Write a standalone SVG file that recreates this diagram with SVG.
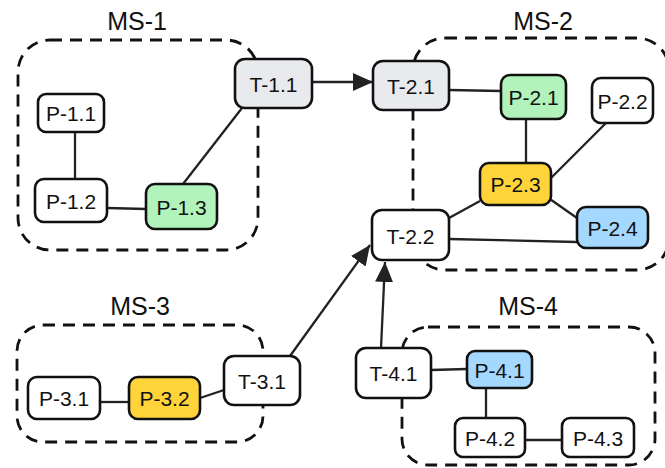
<svg xmlns="http://www.w3.org/2000/svg" width="665" height="468" viewBox="0 0 665 468">
<style>
.ms{fill:none;stroke:#111;stroke-width:2.8;stroke-dasharray:12 8}
.lbl{font-family:"Liberation Sans",Arial,sans-serif;font-size:25px;fill:#111;text-anchor:middle}
.n rect{stroke:#111;stroke-width:2.6}
.n text{font-family:"Liberation Sans",Arial,sans-serif;font-size:21px;fill:#111;text-anchor:middle;dominant-baseline:central}
.w{fill:#fff}.g{fill:#e8eaed}.gr{fill:#b2f2bb}.y{fill:#ffd43b}.b{fill:#a5d8ff}
#connectors line{stroke:#222;stroke-width:2.3}
</style>
<defs>
<marker id="ah" markerUnits="userSpaceOnUse" markerWidth="22" markerHeight="20" refX="20" refY="9" orient="auto">
<path d="M0,0 L20,9 L0,18 Z" fill="#222"/>
</marker>
</defs>
<rect width="665" height="468" fill="#fff"/>
<g id="MS-1"><rect class="ms" x="18" y="40" width="240" height="210" rx="32"/><text class="lbl" x="137" y="30">MS-1</text></g>
<g id="MS-2"><rect class="ms" x="413" y="38" width="256" height="232" rx="32"/><text class="lbl" x="543" y="30">MS-2</text></g>
<g id="MS-3"><rect class="ms" x="17" y="325" width="246" height="117" rx="26"/><text class="lbl" x="140" y="315">MS-3</text></g>
<g id="MS-4"><rect class="ms" x="402" y="327" width="253" height="138" rx="26"/><text class="lbl" x="528" y="315">MS-4</text></g>
<g id="connectors">
<line x1="75" y1="132" x2="75" y2="179"/>
<line x1="107" y1="208" x2="146" y2="209"/>
<line x1="183" y1="184" x2="242" y2="108"/>
<line x1="312" y1="82" x2="373" y2="82" marker-end="url(#ah)"/>
<line x1="449" y1="90" x2="501" y2="91"/>
<line x1="526" y1="119" x2="526" y2="163"/>
<line x1="606" y1="123" x2="551" y2="178"/>
<line x1="547" y1="197" x2="577" y2="218"/>
<line x1="480" y1="201" x2="449" y2="218"/>
<line x1="449" y1="239" x2="577" y2="242"/>
<line x1="100" y1="402" x2="129" y2="402"/>
<line x1="200" y1="398" x2="224" y2="390"/>
<line x1="290" y1="356" x2="370" y2="245" marker-end="url(#ah)"/>
<line x1="381" y1="348" x2="385" y2="262" marker-end="url(#ah)"/>
<line x1="431" y1="370" x2="467" y2="369"/>
<line x1="486" y1="388" x2="486" y2="418"/>
<line x1="525" y1="440" x2="562" y2="440"/>
</g>
<g id="T-1.1" class="n"><rect class="g" x="235" y="59" width="77" height="49" rx="10"/><text x="273.5" y="84">T-1.1</text></g>
<g id="P-1.1" class="n"><rect class="w" x="38" y="94" width="66" height="38" rx="8"/><text x="71" y="113.5">P-1.1</text></g>
<g id="P-1.2" class="n"><rect class="w" x="35" y="179" width="72" height="43" rx="9"/><text x="71" y="201">P-1.2</text></g>
<g id="P-1.3" class="n"><rect class="gr" x="146" y="184" width="71" height="45" rx="9"/><text x="181.5" y="207">P-1.3</text></g>
<g id="T-2.1" class="n"><rect class="g" x="373" y="61" width="76" height="49" rx="10"/><text x="411" y="86">T-2.1</text></g>
<g id="P-2.1" class="n"><rect class="gr" x="501" y="75" width="65" height="44" rx="9"/><text x="533.5" y="97.5">P-2.1</text></g>
<g id="P-2.2" class="n"><rect class="w" x="592" y="78" width="61" height="45" rx="9"/><text x="622.5" y="101">P-2.2</text></g>
<g id="P-2.3" class="n"><rect class="y" x="480" y="163" width="71" height="42" rx="9"/><text x="515.5" y="184.5">P-2.3</text></g>
<g id="P-2.4" class="n"><rect class="b" x="577" y="207" width="71" height="41" rx="9"/><text x="612.5" y="228">P-2.4</text></g>
<g id="T-2.2" class="n"><rect class="w" x="372" y="210" width="77" height="50" rx="10"/><text x="410.5" y="236">T-2.2</text></g>
<g id="P-3.1" class="n"><rect class="w" x="28" y="377" width="72" height="42" rx="9"/><text x="64" y="398.5">P-3.1</text></g>
<g id="P-3.2" class="n"><rect class="y" x="129" y="377" width="71" height="42" rx="9"/><text x="164.5" y="398.5">P-3.2</text></g>
<g id="T-3.1" class="n"><rect class="w" x="224" y="356" width="76" height="49" rx="10"/><text x="262" y="381">T-3.1</text></g>
<g id="T-4.1" class="n"><rect class="w" x="356" y="348" width="75" height="50" rx="10"/><text x="393.5" y="373.5">T-4.1</text></g>
<g id="P-4.1" class="n"><rect class="b" x="467" y="351" width="65" height="37" rx="8"/><text x="499.5" y="370">P-4.1</text></g>
<g id="P-4.2" class="n"><rect class="w" x="455" y="418" width="70" height="39" rx="8"/><text x="490" y="438">P-4.2</text></g>
<g id="P-4.3" class="n"><rect class="w" x="562" y="418" width="72" height="39" rx="8"/><text x="598" y="438">P-4.3</text></g>
</svg>
